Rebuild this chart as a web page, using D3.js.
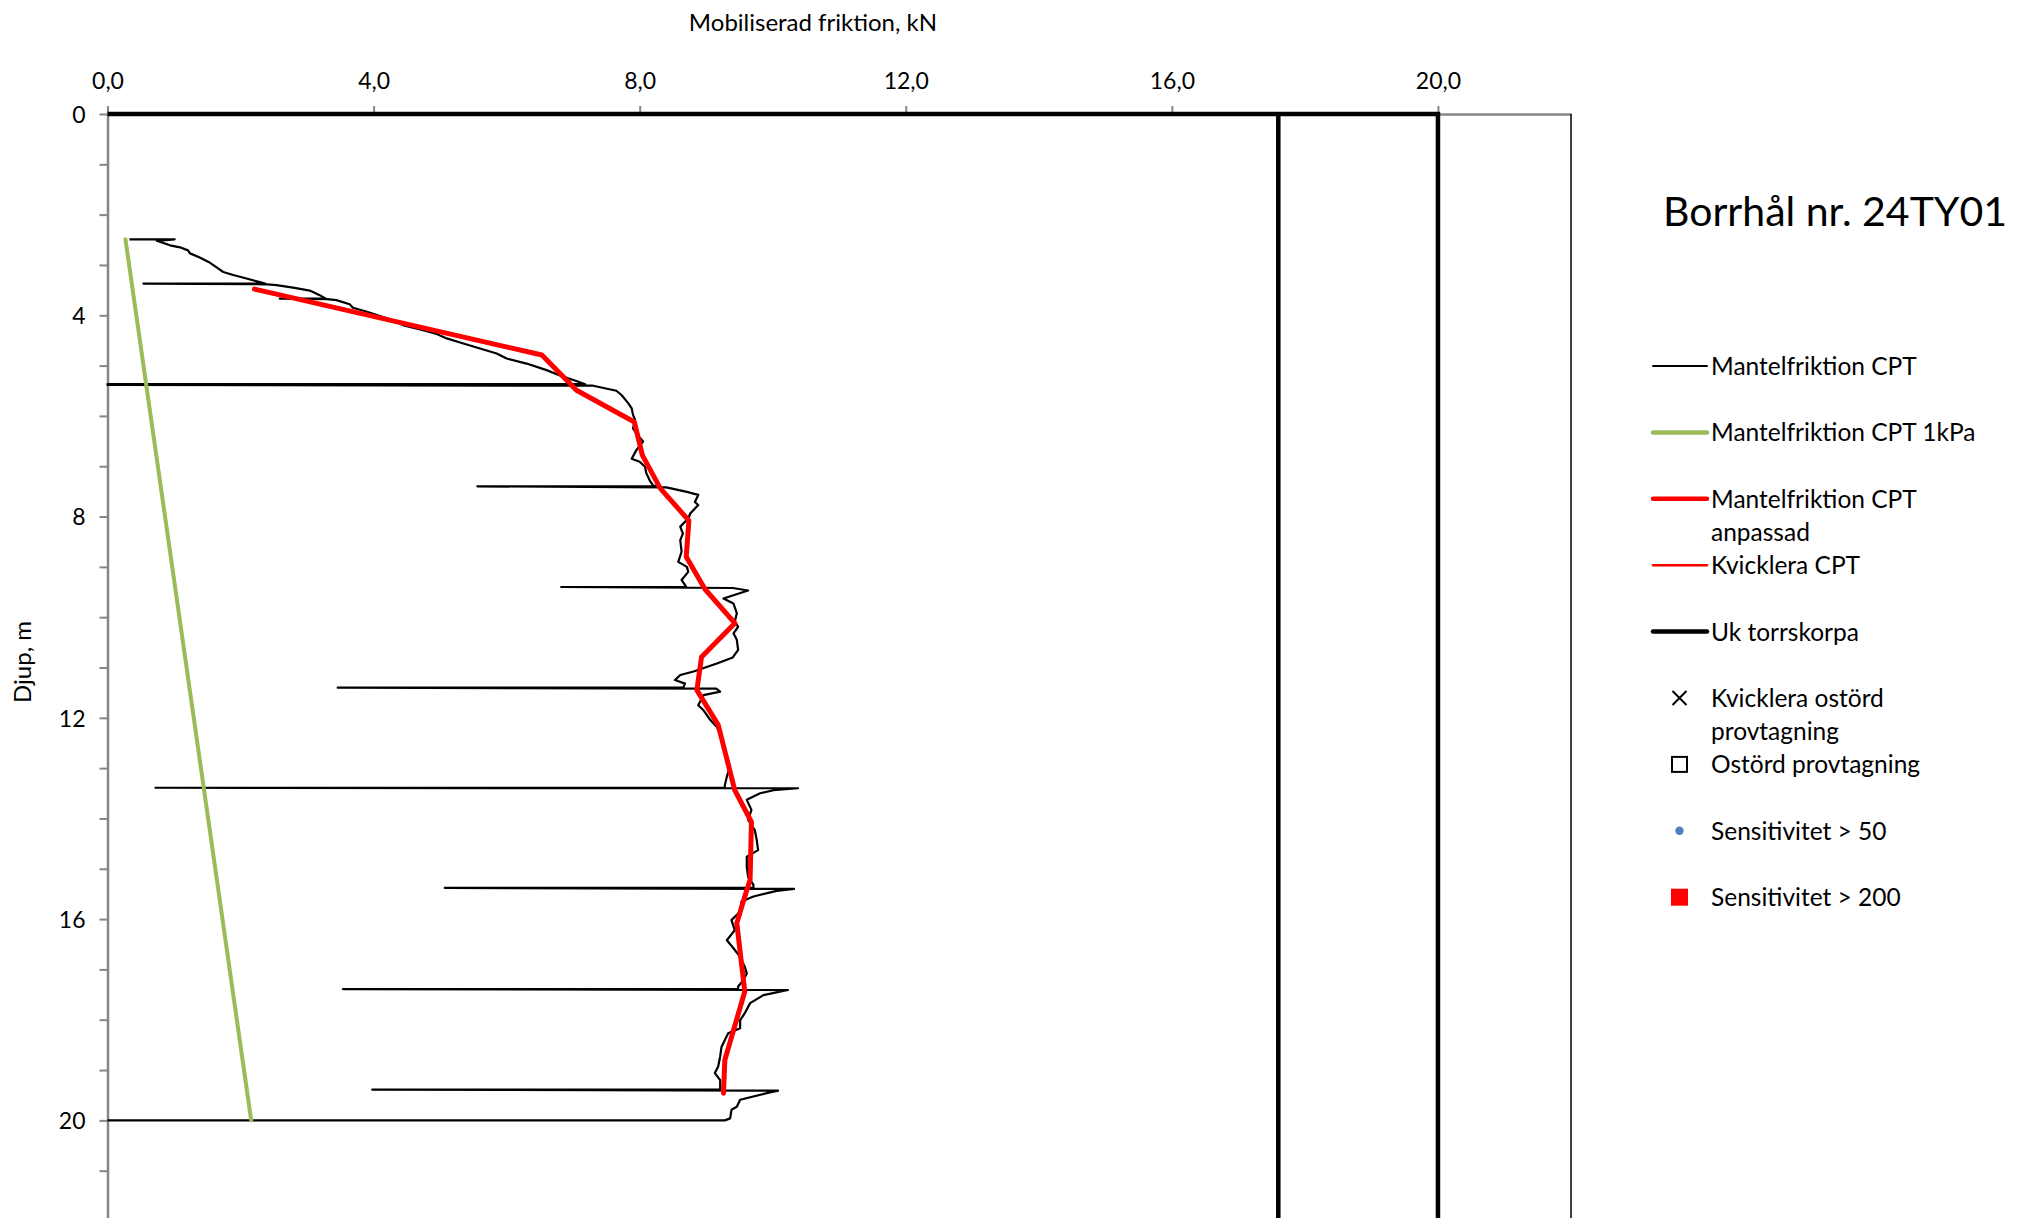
<!DOCTYPE html>
<html>
<head>
<meta charset="utf-8">
<script src="https://cdn.jsdelivr.net/npm/d3@7"></script>
<style>
    body { margin: 0; background: #fff; }
    svg { display: block; font-family: Lato, "Open Sans", sans-serif; }
</style>
</head>
<body>
<div id="chart"></div>
<script>
// ---------------- data (value kN, depth m)
const title = "Borrhål nr. 24TY01"
const xTitle = "Mobiliserad friktion, kN"
const yTitle = "Djup, m"

const xTickValues = [0, 4, 8, 12, 16, 20]
const yTickValues = [0, 1, 2, 3, 4, 5, 6, 7, 8, 9, 10, 11, 12, 13, 14, 15, 16, 17, 18, 19, 20, 21, 22]
const yLabelValues = [0, 4, 8, 12, 16, 20]

// Mantelfriktion CPT (thin black trace, incl. rod-change spikes)
const cpt = [
    [0.33, 2.49], [1.01, 2.49], [0.74, 2.52], [0.94, 2.61], [1.09, 2.65], [1.21, 2.71], [1.24, 2.77],
    [1.37, 2.84], [1.52, 2.94], [1.64, 3.05], [1.74, 3.14], [1.89, 3.20], [2.09, 3.27], [2.29, 3.34],
    [2.37, 3.37], [0.54, 3.37], [2.40, 3.385], [2.54, 3.40], [2.79, 3.45], [3.04, 3.51], [3.19, 3.60],
    [3.28, 3.67], [2.59, 3.67], [3.30, 3.68], [3.44, 3.70], [3.64, 3.78], [3.69, 3.85], [3.90, 3.93],
    [4.20, 4.06], [4.45, 4.20], [4.70, 4.28], [4.95, 4.37], [5.10, 4.46], [5.35, 4.56], [5.60, 4.66],
    [5.85, 4.76], [6.00, 4.86], [6.30, 4.96], [6.60, 5.09], [6.85, 5.22], [7.08, 5.32], [7.18, 5.37],
    [0, 5.37], [0, 5.385], [7.30, 5.40], [7.65, 5.50], [7.73, 5.59], [7.83, 5.75], [7.88, 5.85],
    [7.90, 5.98], [7.93, 6.08], [7.90, 6.25], [7.95, 6.35], [8.05, 6.51], [7.95, 6.68], [7.88, 6.85],
    [8.00, 6.91], [8.08, 7.01], [8.10, 7.14], [8.15, 7.28], [8.20, 7.38], [8.25, 7.40], [5.56, 7.40],
    [8.40, 7.42], [8.71, 7.51], [8.88, 7.57], [8.83, 7.71], [8.88, 7.77], [8.76, 7.94], [8.73, 8.04],
    [8.61, 8.20], [8.65, 8.34], [8.61, 8.47], [8.63, 8.70], [8.58, 8.90], [8.71, 9.00], [8.73, 9.10],
    [8.63, 9.26], [8.68, 9.36], [8.70, 9.40], [6.82, 9.40], [9.40, 9.42], [9.63, 9.47], [9.26, 9.63],
    [9.41, 9.73], [9.46, 9.92], [9.43, 10.09], [9.48, 10.19], [9.41, 10.32], [9.46, 10.45], [9.48, 10.65],
    [9.40, 10.80], [9.16, 10.92], [8.81, 11.08], [8.61, 11.15], [8.53, 11.25], [8.68, 11.32], [8.66, 11.38],
    [8.66, 11.40], [3.46, 11.40], [9.15, 11.42], [9.21, 11.48], [8.96, 11.55], [8.88, 11.75], [8.96, 11.85],
    [9.06, 12.04], [9.16, 12.18], [9.23, 12.38], [9.26, 12.58], [9.31, 12.77], [9.36, 12.97], [9.31, 13.17],
    [9.28, 13.34], [9.28, 13.39], [0.72, 13.39], [10.38, 13.40], [10.01, 13.44], [9.81, 13.50], [9.61, 13.63],
    [9.68, 13.83], [9.63, 14.03], [9.73, 14.23], [9.76, 14.43], [9.78, 14.63], [9.61, 14.76], [9.61, 14.96],
    [9.63, 15.16], [9.71, 15.32], [9.71, 15.38], [5.07, 15.38], [10.32, 15.40], [10.06, 15.44], [9.71, 15.55],
    [9.53, 15.65], [9.51, 15.85], [9.38, 16.02], [9.43, 16.22], [9.31, 16.42], [9.41, 16.58], [9.51, 16.75],
    [9.58, 16.95], [9.61, 17.08], [9.56, 17.21], [9.48, 17.34], [9.48, 17.39], [3.54, 17.39], [10.23, 17.41],
    [9.86, 17.51], [9.66, 17.67], [9.58, 17.87], [9.51, 18.01], [9.51, 18.17], [9.33, 18.27], [9.23, 18.54],
    [9.21, 18.73], [9.18, 18.93], [9.13, 19.06], [9.21, 19.20], [9.21, 19.33], [9.21, 19.39], [3.98, 19.39],
    [10.08, 19.41], [9.91, 19.46], [9.51, 19.59], [9.46, 19.73], [9.38, 19.79], [9.36, 19.96], [9.28, 20.0],
    [0, 20.0]
]

// Mantelfriktion CPT 1kPa
const cpt1kPa = [[0.27, 2.49], [2.16, 20.0]]

// Mantelfriktion CPT anpassad
const cptAdjusted = [
    [2.21, 3.48], [6.53, 4.79], [7.05, 5.49], [7.92, 6.12], [8.04, 6.78], [8.31, 7.44], [8.74, 8.08],
    [8.70, 8.80], [8.98, 9.44], [9.43, 10.12], [8.93, 10.79], [8.86, 11.45], [9.18, 12.14], [9.43, 13.44],
    [9.68, 14.07], [9.66, 15.22], [9.58, 15.55], [9.46, 16.08], [9.53, 16.88], [9.58, 17.44], [9.28, 18.80],
    [9.26, 19.46]
]

// Uk torrskorpa (thick black)
const torrskorpa = [
    [[0, 0], [20, 0], [20, 22.5]],
    [[17.6, 0], [17.6, 22.5]]
]

const legendLabels = [
    ["Mantelfriktion CPT"],
    ["Mantelfriktion CPT 1kPa"],
    ["Mantelfriktion CPT", "anpassad"],
    ["Kvicklera CPT"],
    ["Uk torrskorpa"],
    ["Kvicklera ostörd", "provtagning"],
    ["Ostörd provtagning"],
    ["Sensitivitet > 50"],
    ["Sensitivitet > 200"]
]

function drawChart() {
    //*************************1. Dimensions
    const dimensions = {
        width: 2028,
        height: 1218,
        margin: { top: 114, right: 457, bottom: -3, left: 107.5 }
    }
    dimensions.boundedWidth = dimensions.width - dimensions.margin.left - dimensions.margin.right
    dimensions.boundedHeight = dimensions.height - dimensions.margin.top - dimensions.margin.bottom

    //*************************2. Wrapper and bounds
    const wrapper = d3.select("#chart")
        .append("svg")
        .attr("width", dimensions.width)
        .attr("height", dimensions.height)

    wrapper.append("rect")
        .attr("width", dimensions.width)
        .attr("height", dimensions.height)
        .attr("fill", "#fff")

    const bounds = wrapper.append("g")
        .attr("transform", `translate(${dimensions.margin.left},${dimensions.margin.top})`)

    //*************************3. Scales
    const xScale = d3.scaleLinear()
        .domain([0, 22])
        .range([0, dimensions.boundedWidth])

    const yScale = d3.scaleLinear()
        .domain([0, 22])
        .range([0, dimensions.boundedHeight])

    const locale = d3.formatLocale({ decimal: ",", thousands: " ", grouping: [3], currency: ["", ""] })
    const fmt = locale.format(".1f")

    //*************************4. Axes
    const xAxisGenerator = d3.axisTop(xScale)
        .tickValues(xTickValues)
        .tickFormat(fmt)
        .tickSize(8)
        .tickSizeOuter(0)
        .tickPadding(17)

    const yAxisGenerator = d3.axisLeft(yScale)
        .tickValues(yTickValues)
        .tickFormat(d => yLabelValues.includes(d) ? d : "")
        .tickSize(8)
        .tickSizeOuter(0)
        .tickPadding(14)

    const xAxis = bounds.append("g").call(xAxisGenerator)
    const yAxis = bounds.append("g").call(yAxisGenerator)

    ;[xAxis, yAxis].forEach(ax => {
        ax.select(".domain").attr("stroke", "#868686").attr("stroke-width", 2.5)
        ax.selectAll(".tick line").attr("stroke", "#868686").attr("stroke-width", 2)
        ax.selectAll(".tick text")
            .attr("fill", "#000")
            .style("font-size", "23px")
            .style("font-family", "Lato, sans-serif")
    })
    yAxis.selectAll(".tick text").attr("dy", "0.36em")

    // right border of plot area
    bounds.append("line")
        .attr("x1", xScale(22)).attr("x2", xScale(22))
        .attr("y1", yScale(0)).attr("y2", yScale(22))
        .attr("stroke", "#000")
        .attr("stroke-width", 1.5)

    //*************************5. Lines
    const lineGenerator = d3.line()
        .x(d => xScale(d[0]))
        .y(d => yScale(d[1]))

    bounds.selectAll(".torr")
        .data(torrskorpa)
        .join("path")
        .attr("class", "torr")
        .attr("d", lineGenerator)
        .attr("fill", "none")
        .attr("stroke", "#000")
        .attr("stroke-width", 4.5)

    bounds.append("path")
        .attr("d", lineGenerator(cpt))
        .attr("fill", "none")
        .attr("stroke", "#000")
        .attr("stroke-width", 2.2)
        .attr("stroke-linejoin", "round")

    bounds.append("path")
        .attr("d", lineGenerator(cpt1kPa))
        .attr("fill", "none")
        .attr("stroke", "#9BBB59")
        .attr("stroke-width", 4)
        .attr("stroke-linecap", "round")

    bounds.append("path")
        .attr("d", lineGenerator(cptAdjusted))
        .attr("fill", "none")
        .attr("stroke", "#FF0000")
        .attr("stroke-width", 5)
        .attr("stroke-linejoin", "round")
        .attr("stroke-linecap", "round")

    //*************************6. Titles
    wrapper.append("text")
        .attr("x", 813)
        .attr("y", 31)
        .attr("text-anchor", "middle")
        .style("font-size", "24px")
        .text(xTitle)

    wrapper.append("text")
        .attr("transform", "translate(31,662) rotate(-90)")
        .attr("text-anchor", "middle")
        .style("font-size", "24px")
        .text(yTitle)

    wrapper.append("text")
        .attr("x", 1663)
        .attr("y", 226)
        .style("font-size", "41px")
        .text(title)

    //*************************7. Legend
    const legend = wrapper.append("g")
        .attr("transform", "translate(1652,366)")
    const rowStep = 66.4

    const rows = legend.selectAll(".legendRow")
        .data(legendLabels)
        .join("g")
        .attr("class", "legendRow")
        .attr("transform", (d, i) => `translate(0,${i * rowStep})`)

    rows.append("text")
        .attr("x", 59)
        .attr("y", 9)
        .style("font-size", "24.5px")
        .selectAll("tspan")
        .data(d => d)
        .join("tspan")
        .attr("x", 59)
        .attr("dy", (d, i) => i === 0 ? 0 : 33)
        .text(d => d)

    const lineStyles = [
        { color: "#000", width: 2 },
        { color: "#9BBB59", width: 4.5 },
        { color: "#FF0000", width: 4.5 },
        { color: "#FF0000", width: 2.5 },
        { color: "#000", width: 4.5 }
    ]
    rows.filter((d, i) => i < 5)
        .append("line")
        .attr("x1", 1).attr("x2", 55)
        .attr("y1", 0).attr("y2", 0)
        .attr("stroke", (d, i) => lineStyles[i].color)
        .attr("stroke-width", (d, i) => lineStyles[i].width)
        .attr("stroke-linecap", "round")

    const cx = 27.5
    const cross = d3.select(rows.nodes()[5])
    cross.append("path")
        .attr("d", `M${cx - 7},-7L${cx + 7},7M${cx - 7},7L${cx + 7},-7`)
        .attr("stroke", "#000")
        .attr("stroke-width", 2)

    d3.select(rows.nodes()[6]).append("rect")
        .attr("x", cx - 7.5).attr("y", -7.5)
        .attr("width", 15).attr("height", 15)
        .attr("fill", "none")
        .attr("stroke", "#000")
        .attr("stroke-width", 2)

    d3.select(rows.nodes()[7]).append("circle")
        .attr("cx", cx).attr("cy", 0)
        .attr("r", 4.2)
        .attr("fill", "#4F81BD")

    d3.select(rows.nodes()[8]).append("rect")
        .attr("x", cx - 8.5).attr("y", -8.5)
        .attr("width", 17).attr("height", 17)
        .attr("fill", "#FF0000")
}
drawChart()
</script>
</body>
</html>
